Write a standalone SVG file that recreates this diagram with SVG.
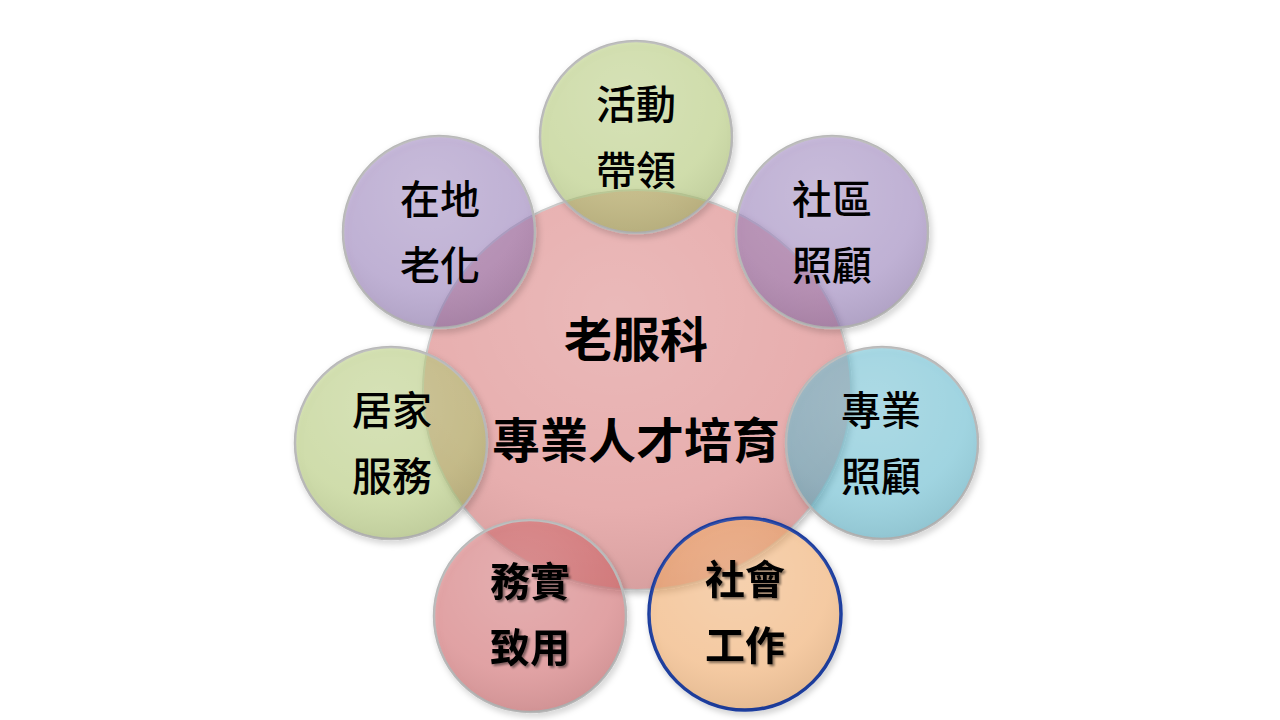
<svg xmlns="http://www.w3.org/2000/svg" width="1280" height="720" viewBox="0 0 1280 720">
  <defs>
    <filter id="shadow" x="-20%" y="-20%" width="140%" height="140%">
      <feDropShadow dx="2" dy="3" stdDeviation="3" flood-color="#000" flood-opacity="0.25"/>
    </filter>
    <filter id="tshadow" x="-20%" y="-20%" width="140%" height="140%">
      <feDropShadow dx="2" dy="2" stdDeviation="1.2" flood-color="#000" flood-opacity="0.45"/>
    </filter>
    <radialGradient id="shine" cx="0.45" cy="0.3" r="0.7">
      <stop offset="0" stop-color="#fff" stop-opacity="0.18"/>
      <stop offset="0.7" stop-color="#fff" stop-opacity="0.05"/>
      <stop offset="1" stop-color="#000" stop-opacity="0.06"/>
    </radialGradient>
    <style>
      .sat { stroke: #b8b8b8; stroke-width: 2.5; fill-opacity: 0.5; }
      .green { fill: #AFC969; }
      .purple { fill: #9173B9; }
      .blue { fill: #51B9D1; }
      .peach { fill: #F9A555; }
      .pink { fill: #D15559; }
      .shine { fill: url(#shine); stroke: none; }
      .lbl { font-family: "Noto Sans CJK TC", "Noto Sans CJK SC", sans-serif; font-size: 40px; font-weight: 500; fill: #000; text-anchor: middle; }
      .bold { font-weight: bold; }
      .ctr { font-family: "Noto Sans CJK TC", "Noto Sans CJK SC", sans-serif; font-size: 48px; font-weight: bold; fill: #000; text-anchor: middle; }
    </style>
  </defs>
  <rect width="1280" height="720" fill="#fff"/>

  <g id="center">
    <ellipse cx="637" cy="390" rx="214" ry="200" fill="#E6AAAA" stroke="#c9c9c9" stroke-width="2" filter="url(#shadow)"/>
    <ellipse cx="637" cy="390" rx="214" ry="200" class="shine"/>
  </g>

  <g id="connectors"></g>

  <g id="n-activity">
    <circle cx="636" cy="137" r="96" class="sat green" filter="url(#shadow)"/>
    <circle cx="636" cy="137" r="96" class="shine"/>
    <text class="lbl" x="636" y="119">活動</text>
    <text class="lbl" x="636" y="185">帶領</text>
  </g>
  <g id="n-community">
    <circle cx="832" cy="232" r="96" class="sat purple" filter="url(#shadow)"/>
    <circle cx="832" cy="232" r="96" class="shine"/>
    <text class="lbl" x="832" y="214">社區</text>
    <text class="lbl" x="832" y="280">照顧</text>
  </g>
  <g id="n-aging">
    <circle cx="439" cy="232" r="96" class="sat purple" filter="url(#shadow)"/>
    <circle cx="439" cy="232" r="96" class="shine"/>
    <text class="lbl" x="440" y="214">在地</text>
    <text class="lbl" x="440" y="280">老化</text>
  </g>
  <g id="n-profcare">
    <circle cx="882" cy="443" r="96" class="sat blue" filter="url(#shadow)"/>
    <circle cx="882" cy="443" r="96" class="shine"/>
    <text class="lbl" x="881" y="425">專業</text>
    <text class="lbl" x="881" y="491">照顧</text>
  </g>
  <g id="n-home">
    <circle cx="391" cy="443" r="96" class="sat green" filter="url(#shadow)"/>
    <circle cx="391" cy="443" r="96" class="shine"/>
    <text class="lbl" x="392" y="425">居家</text>
    <text class="lbl" x="392" y="491">服務</text>
  </g>
  <g id="n-practice">
    <circle cx="530" cy="616" r="96" class="sat pink" filter="url(#shadow)"/>
    <circle cx="530" cy="616" r="96" class="shine"/>
    <text class="lbl bold" x="530" y="596" filter="url(#tshadow)">務實</text>
    <text class="lbl bold" x="530" y="662" filter="url(#tshadow)">致用</text>
  </g>
  <g id="n-social">
    <circle cx="745" cy="614" r="96" class="sat peach" style="stroke:#1F3E9E;stroke-width:3.5" filter="url(#shadow)"/>
    <circle cx="745" cy="614" r="96" class="shine"/>
    <text class="lbl bold" x="745" y="594" filter="url(#tshadow)">社會</text>
    <text class="lbl bold" x="745" y="660" filter="url(#tshadow)">工作</text>
  </g>

  <g id="center-label">
    <text class="ctr" x="636" y="357">老服科</text>
    <text class="ctr" x="636" y="458">專業人才培育</text>
  </g>
</svg>
